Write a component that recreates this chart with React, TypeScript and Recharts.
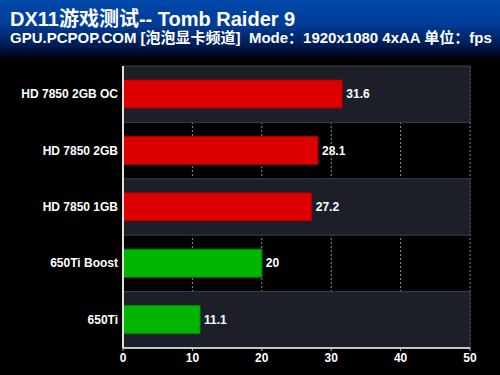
import { BarChart, Bar, XAxis, YAxis, CartesianGrid, ReferenceArea, Cell, LabelList } from 'recharts';

const cards = ['HD 7850 2GB OC', 'HD 7850 2GB', 'HD 7850 1GB', '650Ti Boost', '650Ti'];
const fps = [31.6, 28.1, 27.2, 20, 11.1];
const barColors = ['#dc0000', '#dc0000', '#dc0000', '#00b400', '#00b400'];
const barEdges = ['#a00000', '#a00000', '#a00000', '#008a00', '#008a00'];
const xTicks = [0, 10, 20, 30, 40, 50];
const shadedCards = ['HD 7850 2GB OC', 'HD 7850 1GB', '650Ti'];

const font = '"Liberation Sans", Arial, "Noto Sans CJK SC", sans-serif';

const data = cards.map((name, i) => ({ name, fps: fps[i] }));

const CardTick = (props: any) => {
  const { x, y, payload } = props;
  return (
    <text x={x + 3} y={y} dy={4} textAnchor="end" fill="#fff" fontSize={12} fontWeight="bold" fontFamily={font}>
      {payload.value}
    </text>
  );
};

export default function App() {
  return (
    <div style={{ position: 'absolute', left: 0, top: 0, width: 500, height: 375, background: '#000', fontFamily: font, overflow: 'hidden' }}>
      <div style={{ position: 'absolute', left: 0, top: 0, width: 500, height: 60, background: 'linear-gradient(to bottom, #0049ab 0%, #003d98 40%, #001c55 75%, #000 100%)' }} />
      <div style={{ position: 'absolute', left: 10, top: 7, color: '#fff', fontWeight: 'bold', fontSize: 20, lineHeight: '24px', whiteSpace: 'nowrap' }}>
        DX11游戏测试-- Tomb Raider 9
      </div>
      <div style={{ position: 'absolute', left: 10, top: 29, color: '#fff', fontWeight: 'bold', fontSize: 15, lineHeight: '18px', whiteSpace: 'nowrap' }}>
        GPU.PCPOP.COM [泡泡显卡频道]&nbsp; Mode：1920x1080 4xAA 单位：fps
      </div>
      <div style={{ position: 'absolute', left: 0, top: 60 }}>
        <BarChart
          width={500}
          height={315}
          data={data}
          layout="vertical"
          margin={{ top: 6, right: 30, bottom: 0, left: 5 }}
        >
          {shadedCards.map((c) => (
            <ReferenceArea key={c} y1={c} y2={c} fill="#1c1f28" fillOpacity={1} stroke="#3a3f4b" strokeWidth={1} ifOverflow="visible" />
          ))}
          <CartesianGrid horizontal={false} stroke="#8a8d94" strokeDasharray="2 2" />
          <XAxis
            type="number"
            domain={[0, 50]}
            ticks={xTicks}
            height={27}
            axisLine={{ stroke: '#c4c4c4', strokeWidth: 2 }}
            tickLine={{ stroke: '#c4c4c4' }}
            tickSize={3}
            tick={{ fill: '#fff', fontSize: 12, fontWeight: 'bold', fontFamily: font }}
          />
          <YAxis
            type="category"
            dataKey="name"
            width={118}
            axisLine={{ stroke: '#e0e0e0', strokeWidth: 2 }}
            tickLine={false}
            tick={<CardTick />}
          />
          <Bar dataKey="fps" barSize={28} isAnimationActive={false}>
            {data.map((d, i) => (
              <Cell key={d.name} fill={barColors[i]} stroke={barEdges[i]} strokeWidth={1} />
            ))}
            <LabelList dataKey="fps" position="right" offset={4} fill="#fff" fontSize={12} fontWeight="bold" fontFamily={font} />
          </Bar>
        </BarChart>
      </div>
    </div>
  );
}
